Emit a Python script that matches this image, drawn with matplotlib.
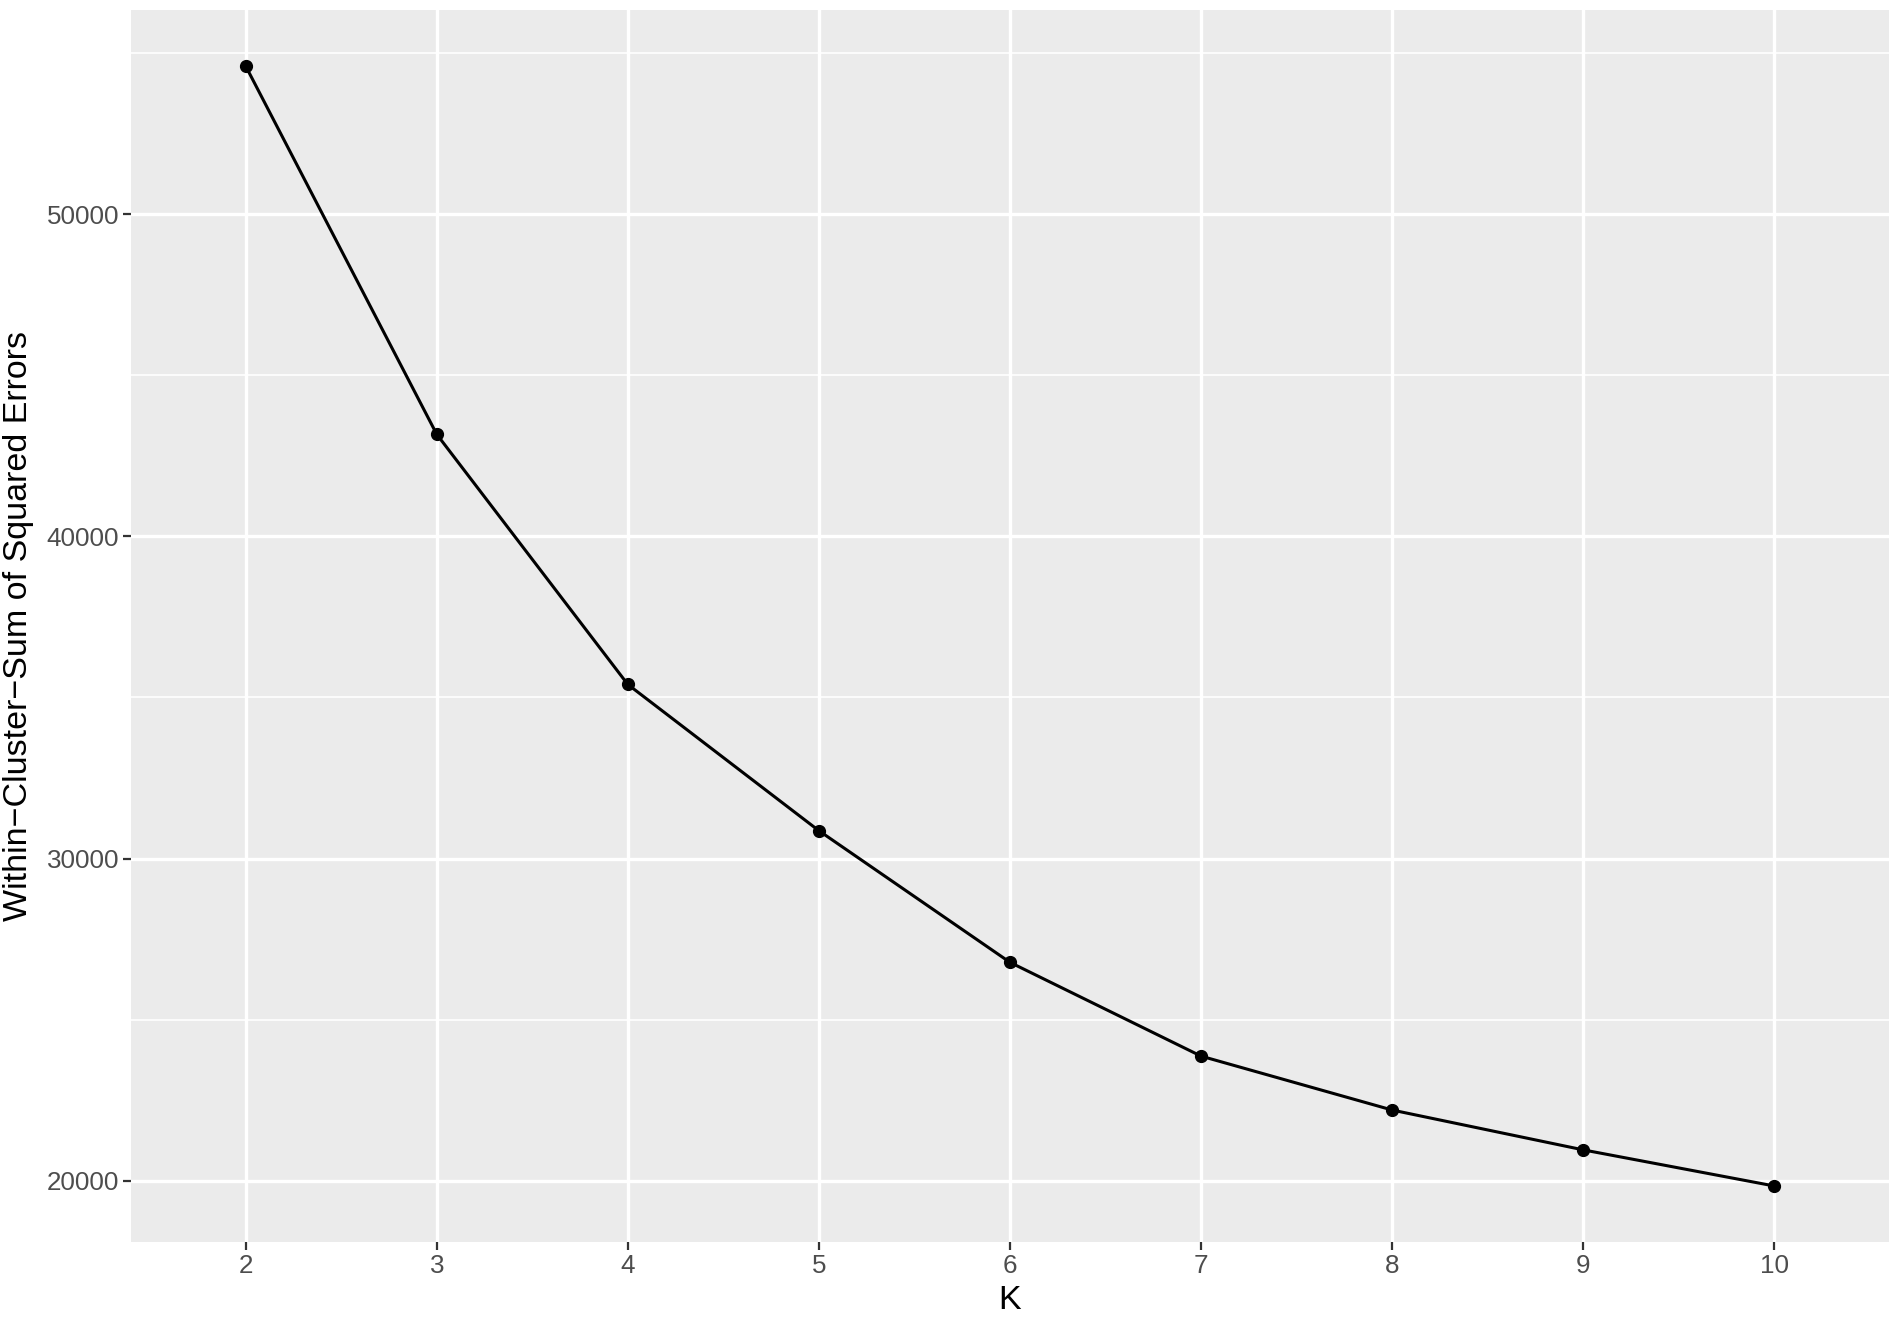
import matplotlib
matplotlib.use("Agg")
import matplotlib.pyplot as plt
from matplotlib.ticker import FixedLocator

k_values = [2, 3, 4, 5, 6, 7, 8, 9, 10]
wss = [54596, 43167, 35404, 30865, 26780, 23870, 22197, 20961, 19840]
y_ticks = [20000, 30000, 40000, 50000]
x_label = "K"
y_label = "Within\u2212Cluster\u2212Sum of Squared Errors"

plt.rcParams['font.family'] = ['Liberation Sans', 'DejaVu Sans']

fig = plt.figure(figsize=(19.02, 13.26), dpi=100)
ax = fig.add_axes([131/1902, 84/1326, (1889-131)/1902, (1242-10)/1326])
ax.set_facecolor('#EBEBEB')
for s in ax.spines.values():
    s.set_visible(False)

ymin, ymax = min(wss), max(wss)
pad = (ymax - ymin) * 0.05
ax.set_ylim(ymin - pad, ymax + pad)
ax.set_xlim(k_values[0] - 0.6, k_values[-1] + 0.6)

ax.set_xticks(k_values)
ax.set_xticklabels([str(k) for k in k_values])
ax.set_yticks(y_ticks)
ax.set_yticklabels([str(v) for v in y_ticks])
ax.yaxis.set_minor_locator(FixedLocator([25000, 35000, 45000, 55000]))

ax.grid(which='major', color='white', linewidth=2.4)
ax.grid(which='minor', axis='y', color='white', linewidth=1.2)
ax.set_axisbelow(True)

ax.tick_params(axis='both', which='major', length=5.5, width=1.6, color='#333333',
               labelcolor='#4D4D4D', labelsize=18.7, pad=3)
ax.tick_params(axis='y', which='minor', length=0)

ax.plot(k_values, wss, color='black', linewidth=2.2, marker='o', markersize=8.5, zorder=3)

ax.set_xlabel(x_label, fontsize=24.5, color='black', labelpad=5)
ax.set_ylabel(y_label, fontsize=24.5, color='black', labelpad=9)

fig.savefig("out.png", dpi=100, facecolor='white')
